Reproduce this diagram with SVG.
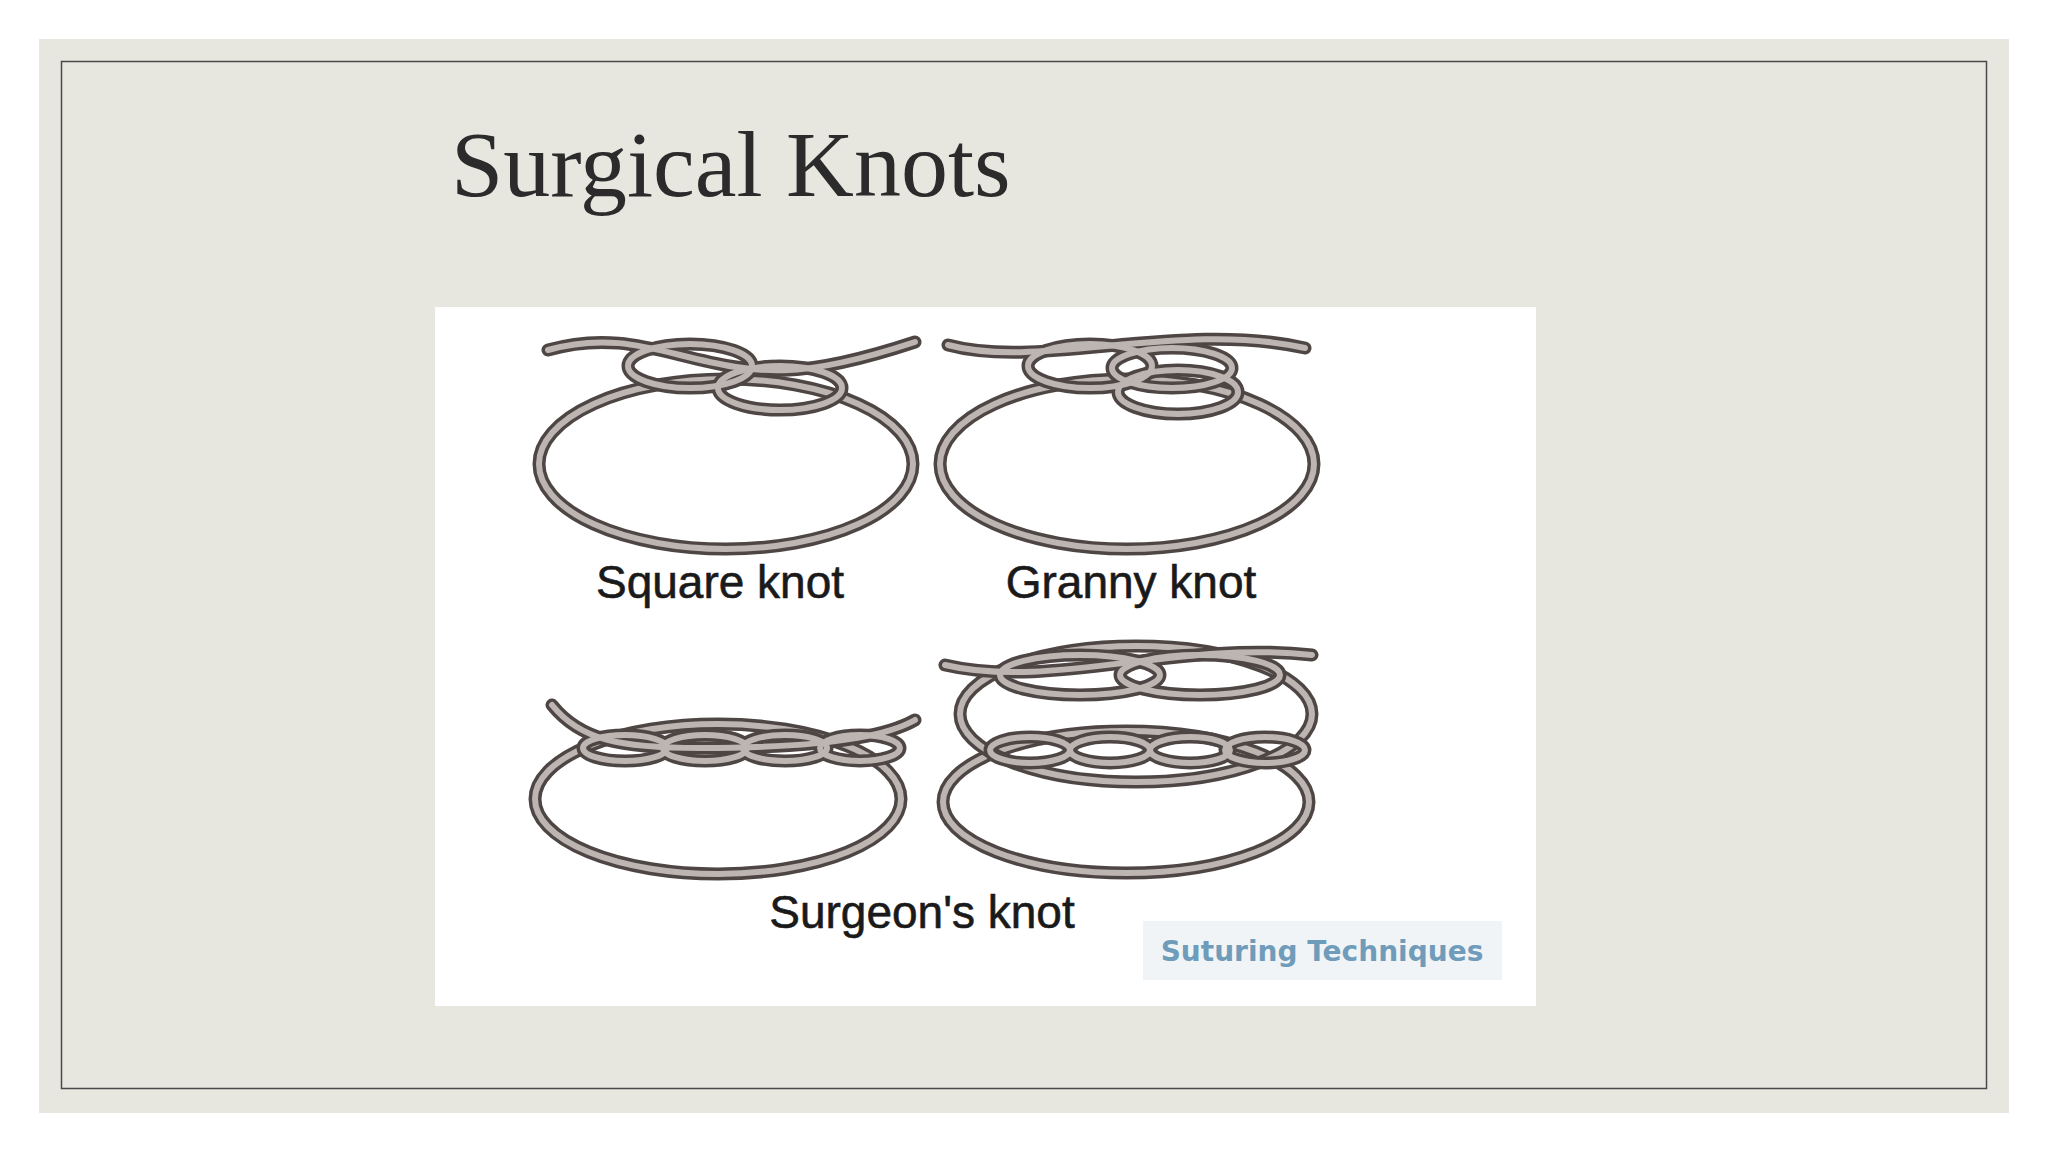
<svg xmlns="http://www.w3.org/2000/svg" width="2048" height="1152" viewBox="0 0 2048 1152">
<style>
.o{fill:none;stroke:#4e4644;stroke-width:13;stroke-linecap:round}
.i{fill:none;stroke:#bdb5b1;stroke-width:6;stroke-linecap:round}
.lbl{font-family:"Liberation Sans",Arial,sans-serif;font-size:46px;fill:#1a1a1a;text-anchor:middle;stroke:#1a1a1a;stroke-width:0.6}
</style>
<rect width="2048" height="1152" fill="#ffffff"/>
<rect x="39" y="39" width="1970" height="1074" fill="#e7e6df"/>
<rect x="61.5" y="61.5" width="1925" height="1027" fill="none" stroke="#4a4a4a" stroke-width="1.5"/>
<text x="451" y="196" font-family="Liberation Serif,'Times New Roman',serif" font-size="94" fill="#2b2b2b">Surgical Knots</text>
<rect x="435" y="307" width="1101" height="699" fill="#ffffff"/>
<g id="square-knot">
<ellipse class="o" cx="726" cy="464" rx="187" ry="85"/><ellipse class="i" cx="726" cy="464" rx="187" ry="85"/>
<g class="o"><path d="M548 350 C600 335 640 345 680 355 C760 375 800 380 915 342"/><ellipse cx="690" cy="366" rx="62" ry="22"/><ellipse cx="780" cy="388" rx="62" ry="22"/></g>
<g class="i"><path d="M548 350 C600 335 640 345 680 355 C760 375 800 380 915 342"/><ellipse cx="690" cy="366" rx="62" ry="22"/><ellipse cx="780" cy="388" rx="62" ry="22"/></g>
<text class="lbl" x="720" y="598">Square knot</text>
</g>
<g id="granny-knot">
<ellipse class="o" cx="1127" cy="464" rx="187" ry="85"/><ellipse class="i" cx="1127" cy="464" rx="187" ry="85"/>
<g class="o"><path d="M948 345 C1040 370 1180 320 1305 348"/><ellipse cx="1090" cy="366" rx="62" ry="22"/><ellipse cx="1178" cy="392" rx="60" ry="22"/><ellipse cx="1172" cy="368" rx="60" ry="20"/></g>
<g class="i"><path d="M948 345 C1040 370 1180 320 1305 348"/><ellipse cx="1090" cy="366" rx="62" ry="22"/><ellipse cx="1178" cy="392" rx="60" ry="22"/><ellipse cx="1172" cy="368" rx="60" ry="20"/></g>
<text class="lbl" x="1131" y="598">Granny knot</text>
</g>
<g id="surgeons-knot-single">
<ellipse class="o" cx="718" cy="799" rx="183" ry="75"/><ellipse class="i" cx="718" cy="799" rx="183" ry="75"/>
<g class="o"><path d="M552 705 C580 740 620 748 700 748 C800 748 880 740 915 720"/><ellipse cx="625" cy="748" rx="42" ry="13"/><ellipse cx="705" cy="748" rx="42" ry="13"/><ellipse cx="785" cy="748" rx="42" ry="13"/><ellipse cx="860" cy="748" rx="40" ry="13"/></g>
<g class="i"><path d="M552 705 C580 740 620 748 700 748 C800 748 880 740 915 720"/><ellipse cx="625" cy="748" rx="42" ry="13"/><ellipse cx="705" cy="748" rx="42" ry="13"/><ellipse cx="785" cy="748" rx="42" ry="13"/><ellipse cx="860" cy="748" rx="40" ry="13"/></g>
</g>
<g id="surgeons-knot-double">
<ellipse class="o" cx="1126" cy="802" rx="183" ry="71"/><ellipse class="i" cx="1126" cy="802" rx="183" ry="71"/>
<ellipse class="o" cx="1136" cy="714" rx="176" ry="68"/><ellipse class="i" cx="1136" cy="714" rx="176" ry="68"/>
<g class="o"><path d="M945 665 C1050 690 1180 640 1312 655"/><ellipse cx="1080" cy="675" rx="80" ry="20"/><ellipse cx="1200" cy="675" rx="80" ry="20"/><ellipse cx="1030" cy="750" rx="40" ry="13"/><ellipse cx="1110" cy="750" rx="40" ry="13"/><ellipse cx="1190" cy="750" rx="40" ry="13"/><ellipse cx="1265" cy="750" rx="40" ry="13"/></g>
<g class="i"><path d="M945 665 C1050 690 1180 640 1312 655"/><ellipse cx="1080" cy="675" rx="80" ry="20"/><ellipse cx="1200" cy="675" rx="80" ry="20"/><ellipse cx="1030" cy="750" rx="40" ry="13"/><ellipse cx="1110" cy="750" rx="40" ry="13"/><ellipse cx="1190" cy="750" rx="40" ry="13"/><ellipse cx="1265" cy="750" rx="40" ry="13"/></g>
</g>
<text class="lbl" x="922" y="928">Surgeon's knot</text>
<g id="watermark">
<rect x="1143" y="921" width="359" height="59" fill="#f1f4f6"/>
<text x="1322" y="961" font-family="'DejaVu Sans',sans-serif" font-weight="bold" font-size="28" fill="#6f9cba" text-anchor="middle">Suturing Techniques</text>
</g>
</svg>
